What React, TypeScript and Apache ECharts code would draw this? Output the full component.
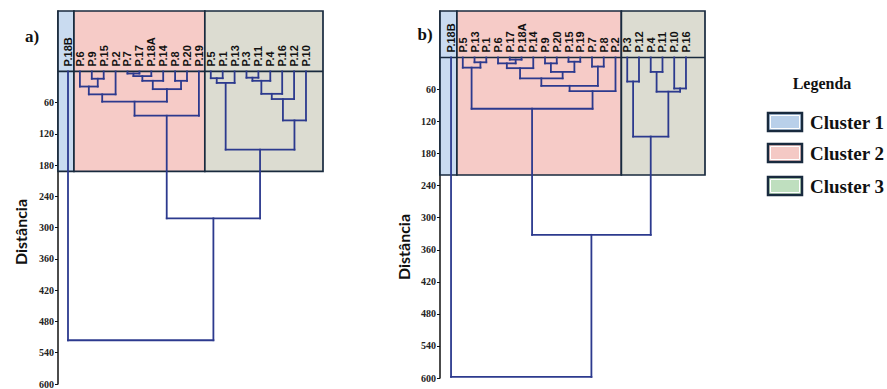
import React, { useEffect, useRef } from "react";
import * as echarts from "echarts";

// ---------- data ----------
const leavesA = ["P.18B", "P.6", "P.9", "P.15", "P.2", "P.7", "P.17", "P.18A", "P.14", "P.8", "P.20", "P.19", "P.5", "P.1", "P.13", "P.3", "P.11", "P.4", "P.16", "P.12", "P.10"];
// [childA, childB, distance]; merge k is referred to as "n" + k
const mergesA: [string, string, number][] = [
  ["P.9", "P.15", 14],
  ["P.6", "n0", 29],
  ["n1", "P.2", 44],
  ["P.7", "P.17", 4],
  ["n3", "P.18A", 9],
  ["n4", "P.14", 18],
  ["P.8", "P.20", 18],
  ["n5", "n6", 34],
  ["n2", "n7", 58],
  ["n8", "P.19", 85],
  ["P.5", "P.1", 13],
  ["n10", "P.13", 22],
  ["P.3", "P.11", 12],
  ["n12", "P.4", 18],
  ["n13", "P.16", 43],
  ["n14", "P.12", 53],
  ["n15", "P.10", 94],
  ["n11", "n16", 150],
  ["n9", "n17", 282],
  ["P.18B", "n18", 516],
];
const clusterSizesA = [1, 11, 9];

const leavesB = ["P.18B", "P.5", "P.13", "P.1", "P.6", "P.17", "P.18A", "P.14", "P.9", "P.20", "P.15", "P.19", "P.7", "P.8", "P.2", "P.3", "P.12", "P.4", "P.11", "P.10", "P.16"];
const mergesB: [string, string, number][] = [
  ["P.13", "P.1", 9],
  ["P.5", "n0", 19],
  ["P.17", "P.18A", 4],
  ["P.6", "n2", 11],
  ["n3", "P.14", 20],
  ["P.9", "P.20", 11],
  ["P.15", "P.19", 8],
  ["n5", "n6", 27],
  ["n4", "n7", 39],
  ["P.7", "P.8", 17],
  ["n8", "n9", 53],
  ["n10", "P.2", 63],
  ["n1", "n11", 96],
  ["P.4", "P.11", 27],
  ["P.10", "P.16", 58],
  ["n13", "n14", 64],
  ["P.3", "P.12", 45],
  ["n16", "n15", 148],
  ["n12", "n17", 332],
  ["P.18B", "n18", 598],
];
const clusterSizesB = [1, 14, 6];

const yTicks = [60, 120, 180, 240, 300, 360, 420, 480, 540, 600];
const clusterNames = ["Cluster 1", "Cluster 2", "Cluster 3"];
const panelLabels = ["a)", "b)"];
const axisTitle = "Distância";
const legendTitle = "Legenda";

// ---------- styles ----------
const BG = ["#c9dbf0", "#f6cbc7", "#dcdcd1"];
const LEGEND_FILL = ["#b9d0ea", "#f4c9c5", "#bfdfbf"];
const BORDER = "#182a3e";
const LINE = "#2c3a8e";

function buildSegments(leaves: string[], merges: [string, string, number][]) {
  const pos: Record<string, [number, number]> = {};
  leaves.forEach((n, i) => (pos[n] = [i, 0]));
  const segs: number[][] = [];
  merges.forEach(([a, b, h], k) => {
    const pa = pos[a];
    const pb = pos[b];
    segs.push([pa[0], pa[1], pa[0], h]);
    segs.push([pb[0], pb[1], pb[0], h]);
    segs.push([pa[0], h, pb[0], h]);
    pos["n" + k] = [(pa[0] + pb[0]) / 2, h];
  });
  return segs;
}

function clusterSpans(sizes: number[]) {
  const out: number[][] = [];
  let start = 0;
  sizes.forEach((s, k) => {
    out.push([start - 0.5, start + s - 0.5, k]);
    start += s;
  });
  return out;
}

function panelSeries(idx: number, leaves: string[], merges: [string, string, number][], sizes: number[], boxBottom: number) {
  const spans = clusterSpans(sizes);
  const segs = buildSegments(leaves, merges);
  const nClusters = sizes.length;
  return [
    {
      type: "custom",
      xAxisIndex: idx,
      yAxisIndex: idx,
      data: spans,
      z: 1,
      renderItem: (params: any, api: any) => {
        const k = api.value(2);
        const cs = params.coordSys;
        let x0 = api.coord([api.value(0), 0])[0];
        let x1 = api.coord([api.value(1), 0])[0];
        if (k === 0) x0 = cs.x;
        if (k === nClusters - 1) x1 = cs.x + cs.width;
        const yb = api.coord([0, boxBottom])[1];
        return {
          type: "rect",
          shape: { x: x0, y: cs.y, width: x1 - x0, height: yb - cs.y },
          style: { fill: BG[k], stroke: BORDER, lineWidth: 1.7 },
        };
      },
    },
    {
      type: "custom",
      xAxisIndex: idx,
      yAxisIndex: idx,
      data: [[0, 0]],
      z: 2,
      renderItem: (params: any, api: any) => {
        const cs = params.coordSys;
        const y = api.coord([0, 0])[1];
        return {
          type: "line",
          shape: { x1: cs.x, y1: y, x2: cs.x + cs.width, y2: y },
          style: { stroke: BORDER, lineWidth: 1.7 },
        };
      },
    },
    {
      type: "custom",
      xAxisIndex: idx,
      yAxisIndex: idx,
      data: segs,
      z: 3,
      renderItem: (params: any, api: any) => {
        const a = api.coord([api.value(0), api.value(1)]);
        const b = api.coord([api.value(2), api.value(3)]);
        return {
          type: "line",
          shape: { x1: a[0], y1: a[1], x2: b[0], y2: b[1] },
          style: { stroke: LINE, lineWidth: 1.8, lineCap: "square" },
        };
      },
    },
    {
      type: "custom",
      xAxisIndex: idx,
      yAxisIndex: idx,
      data: leaves.map((_, i) => [i, 0]),
      z: 4,
      renderItem: (params: any, api: any) => {
        const p = api.coord([api.value(0), 0]);
        return {
          type: "text",
          x: p[0],
          y: p[1] - 5,
          rotation: Math.PI / 2,
          style: {
            text: leaves[params.dataIndex],
            fill: "#111",
            fontSize: 11,
            fontWeight: "bold",
            fontFamily: "Liberation Sans",
            align: "left",
            verticalAlign: "middle",
            textAlign: "left",
            textVerticalAlign: "middle",
          },
        };
      },
    },
  ];
}

function yAxisCfg(idx: number, min: number) {
  return {
    gridIndex: idx,
    type: "value",
    inverse: true,
    min,
    max: 600,
    axisLine: { show: true, onZero: false, lineStyle: { color: "#111", width: 1.5 } },
    axisTick: { show: true, length: 3, customValues: yTicks, lineStyle: { color: "#111", width: 1 } },
    axisLabel: {
      customValues: yTicks,
      margin: 4,
      fontFamily: "Liberation Serif",
      fontWeight: "bold",
      fontSize: 10,
      color: "#222",
    },
    splitLine: { show: false },
  };
}

export default function App() {
  const ref = useRef<HTMLDivElement>(null);
  useEffect(() => {
    if (!ref.current) return;
    const chart = echarts.init(ref.current, null, { renderer: "svg" });
    const legendRowsY = [122, 153, 186];
    const legendGraphics: any[] = [
      {
        type: "text",
        x: 822,
        y: 83,
        style: {
          text: legendTitle,
          fontFamily: "Liberation Serif",
          fontWeight: "bold",
          fontSize: 16,
          fill: "#111",
          align: "center",
          verticalAlign: "middle",
        },
      },
    ];
    clusterNames.forEach((name, k) => {
      const cy = legendRowsY[k];
      legendGraphics.push({
        type: "rect",
        shape: { x: 768, y: cy - 9, width: 34, height: 18 },
        style: { fill: LEGEND_FILL[k], stroke: BORDER, lineWidth: 2.5 },
      });
      legendGraphics.push({
        type: "rect",
        shape: { x: 770.5, y: cy - 6.5, width: 29, height: 13 },
        style: { fill: "none", stroke: "#ffffff", lineWidth: 1 },
      });
      legendGraphics.push({
        type: "text",
        x: 810,
        y: cy,
        style: {
          text: name,
          fontFamily: "Liberation Serif",
          fontWeight: "bold",
          fontSize: 19,
          fill: "#111",
          align: "left",
          verticalAlign: "middle",
        },
      });
    });

    chart.setOption({
      animation: false,
      backgroundColor: "#ffffff",
      grid: [
        { left: 58, top: 11, width: 265, height: 376 },
        { left: 440, top: 11, width: 265, height: 367 },
      ],
      xAxis: [
        { gridIndex: 0, type: "value", min: -0.84, max: 21.43, show: false },
        { gridIndex: 1, type: "value", min: -0.94, max: 21.62, show: false },
      ],
      yAxis: [yAxisCfg(0, -116), yAxisCfg(1, -87)],
      series: [
        ...panelSeries(0, leavesA, mergesA, clusterSizesA, 192),
        ...panelSeries(1, leavesB, mergesB, clusterSizesB, 220),
      ],
      graphic: [
        {
          type: "text",
          x: 32,
          y: 36,
          style: { text: panelLabels[0], fontFamily: "Liberation Serif", fontWeight: "bold", fontSize: 17, fill: "#111", align: "center", verticalAlign: "middle" },
        },
        {
          type: "text",
          x: 425,
          y: 34,
          style: { text: panelLabels[1], fontFamily: "Liberation Serif", fontWeight: "bold", fontSize: 17, fill: "#111", align: "center", verticalAlign: "middle" },
        },
        {
          type: "text",
          x: 20,
          y: 232,
          rotation: Math.PI / 2,
          style: { text: axisTitle, fontFamily: "Lato", fontWeight: "bold", fontSize: 16, fill: "#111", align: "center", verticalAlign: "middle" },
        },
        {
          type: "text",
          x: 403,
          y: 247,
          rotation: Math.PI / 2,
          style: { text: axisTitle, fontFamily: "Lato", fontWeight: "bold", fontSize: 16, fill: "#111", align: "center", verticalAlign: "middle" },
        },
        ...legendGraphics,
      ],
    });
    return () => chart.dispose();
  }, []);
  return (
    <div
      ref={ref}
      style={{ position: "fixed", left: 0, top: 0, width: 887, height: 389, background: "#fff" }}
    />
  );
}
